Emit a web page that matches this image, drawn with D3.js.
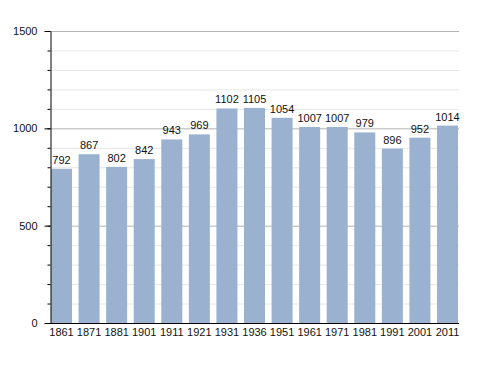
<!DOCTYPE html>
<html>
<head>
<meta charset="utf-8">
<script src="https://cdn.jsdelivr.net/npm/d3@7"></script>
<style>
  body { margin: 0; background: #fff; }
  text { font-family: "Liberation Sans", Arial, sans-serif; }
</style>
</head>
<body>
<div id="chart"></div>
<script>
const years = ['1861', '1871', '1881', '1901', '1911', '1921', '1931', '1936', '1951', '1961', '1971', '1981', '1991', '2001', '2011'];
const population = [792, 867, 802, 842, 943, 969, 1102, 1105, 1054, 1007, 1007, 979, 896, 952, 1014];
const majorTicks = [0, 500, 1000, 1500];
const minorTicks = d3.range(0, 1501, 100);

let svgDimensions = [488, 373];
let svg = d3.select('#chart')
  .append('svg')
    .attr('width', svgDimensions[0])
    .attr('height', svgDimensions[1]);

let x = d3.scaleBand()
  .domain(years)
  .range([51, 458])
  .paddingInner(0.238)
  .paddingOuter(0);

let y = d3.scaleLinear()
  .domain([0, 1500])
  .range([323, 31]);

// grid, light lines every 100, darker every 500
svg.append('g')
  .selectAll('line')
  .data(minorTicks.filter(d => d % 500 !== 0))
  .enter()
  .append('line')
    .attr('x1', 51).attr('x2', 459)
    .attr('y1', d => y(d) + 0.5).attr('y2', d => y(d) + 0.5)
    .attr('stroke', '#e6e6e6');

svg.append('g')
  .selectAll('line')
  .data(majorTicks.filter(d => d > 0))
  .enter()
  .append('line')
    .attr('x1', 51).attr('x2', 459)
    .attr('y1', d => y(d) + 0.5).attr('y2', d => y(d) + 0.5)
    .attr('stroke', '#b4b4b4');

// bars
svg.selectAll('rect')
  .data(population)
  .enter()
  .append('rect')
    .attr('x', (d, i) => x(years[i]))
    .attr('y', d => y(d))
    .attr('width', x.bandwidth())
    .attr('height', d => y(0) - y(d))
    .attr('fill', '#9ab2cf');

// value labels
svg.append('g')
  .selectAll('text')
  .data(population)
  .enter()
  .append('text')
    .attr('x', (d, i) => x(years[i]) + x.bandwidth() / 2)
    .attr('y', d => y(d) - 5)
    .attr('text-anchor', 'middle')
    .attr('font-size', 11)
    .attr('fill', '#111')
    .text(d => d);

// y axis: minor ticks, then major ticks with labels
svg.append('g')
  .attr('transform', 'translate(50.5,0)')
  .call(d3.axisLeft(y).tickValues(minorTicks).tickSize(3).tickFormat(''))
  .call(g => g.select('.domain').remove());

svg.append('g')
  .attr('transform', 'translate(50.5,0)')
  .call(d3.axisLeft(y).tickValues(majorTicks).tickFormat(d3.format('d')).tickSize(6).tickSizeOuter(0).tickPadding(7))
  .call(g => g.selectAll('text').attr('font-size', 11).attr('fill', '#111').attr('font-family', null));

// x axis
svg.append('g')
  .attr('transform', 'translate(0,323.5)')
  .call(d3.axisBottom(x).tickSize(0).tickPadding(5))
  .call(g => g.select('.domain').attr('d', 'M50,0H459'))
  .call(g => g.selectAll('text').attr('font-size', 11).attr('fill', '#111').attr('font-family', null));
</script>
</body>
</html>
